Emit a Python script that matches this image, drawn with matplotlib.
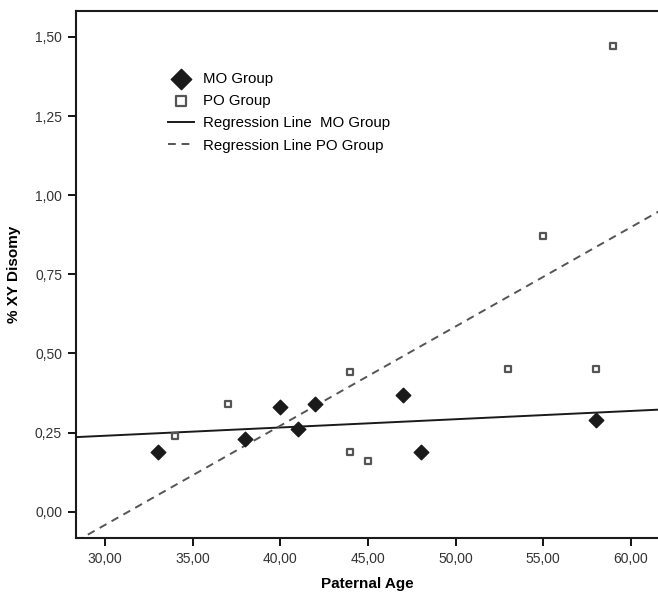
import matplotlib
matplotlib.use("Agg")
import matplotlib.pyplot as plt
import numpy as np

plt.rcParams['font.family'] = ['Liberation Sans', 'DejaVu Sans']

# data
mo_age = [33, 38, 40, 41, 42, 47, 48, 58]
mo_disomy = [0.19, 0.23, 0.33, 0.26, 0.34, 0.37, 0.19, 0.29]
po_age = [34, 37, 44, 44, 45, 53, 55, 58, 59]
po_disomy = [0.24, 0.34, 0.44, 0.19, 0.16, 0.45, 0.87, 0.45, 1.47]

x_ticks = [30, 35, 40, 45, 50, 55, 60]
y_ticks = [0.0, 0.25, 0.5, 0.75, 1.0, 1.25, 1.5]

fig = plt.figure(figsize=(6.58, 5.96), dpi=100)
ax = fig.add_axes([0.1155, 0.0973, 0.886, 0.8842])

xmin, xmax = 28.35, 61.6
ymin, ymax = -0.083, 1.582

# regression lines fitted to each group
xs = np.array([xmin, xmax])
b_mo = np.polyfit(mo_age, mo_disomy, 1)
b_po = np.polyfit(po_age, po_disomy, 1)
ax.plot(xs, np.polyval(b_mo, xs), color='#1a1a1a', lw=1.4, label='Regression Line  MO Group', zorder=2)
ax.plot(xs, np.polyval(b_po, xs), color='#555555', lw=1.4, ls=(0, (4, 3)), label='Regression Line PO Group', zorder=2)

ax.scatter(mo_age, mo_disomy, marker='D', s=55, color='#1a1a1a', edgecolors='#1a1a1a', label='MO Group', zorder=3)
ax.scatter(po_age, po_disomy, marker='s', s=24, facecolors='white', edgecolors='#555555', linewidths=1.6, label='PO Group', zorder=3)

ax.set_xlim(xmin, xmax)
ax.set_ylim(ymin, ymax)
ax.set_xticks(x_ticks)
ax.set_yticks(y_ticks)
ax.set_xticklabels([f"{v:.2f}".replace('.', ',') for v in x_ticks], fontsize=10, color='#333333')
ax.set_yticklabels([f"{v:.2f}".replace('.', ',') for v in y_ticks], fontsize=10, color='#333333')
ax.tick_params(direction='out', length=6, width=1.3, pad=4)

for s in ['left', 'bottom', 'top']:
    ax.spines[s].set_linewidth(1.5)
    ax.spines[s].set_color('#1a1a1a')
ax.spines['right'].set_visible(False)

ax.set_xlabel('Paternal Age', fontsize=11, fontweight='bold', labelpad=8)
ax.set_ylabel('% XY Disomy', fontsize=11, fontweight='bold', labelpad=10)

handles, labels = ax.get_legend_handles_labels()
order = [2, 3, 0, 1]
ax.legend([handles[i] for i in order], [labels[i] for i in order],
          loc='upper left', bbox_to_anchor=(0.135, 0.91), frameon=False,
          fontsize=10.8, handlelength=1.7, handletextpad=0.6, labelspacing=0.55,
          markerscale=1.4)

fig.savefig('out.png', dpi=100)
